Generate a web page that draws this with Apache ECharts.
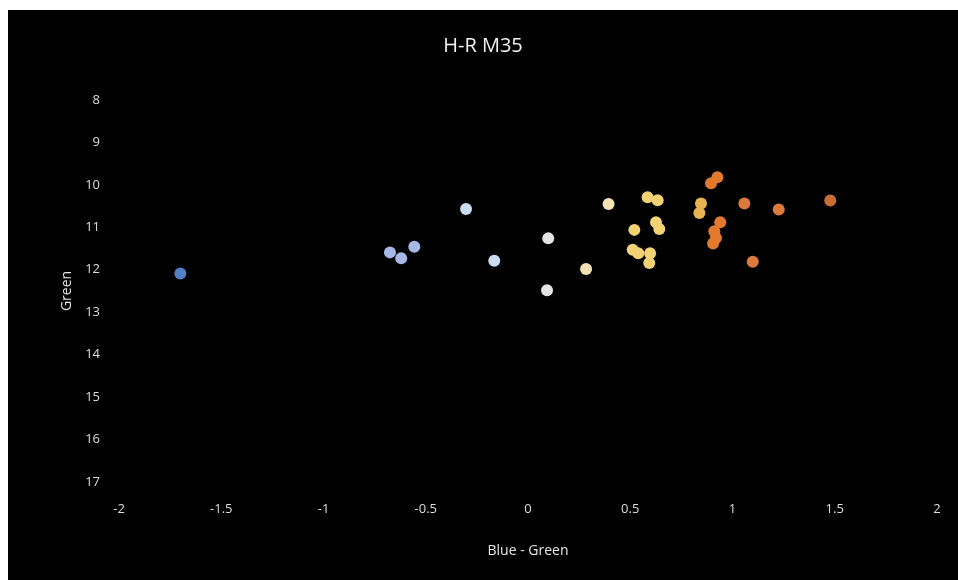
<!DOCTYPE html>
<html>
<head>
<meta charset="utf-8">
<script src="https://cdn.jsdelivr.net/npm/echarts@6/dist/echarts.min.js"></script>
<style>
html,body{margin:0;padding:0;background:#ffffff;width:958px;height:580px;overflow:hidden;}
#chart{position:absolute;left:8px;top:10px;width:950px;height:570px;background:#000;}
</style>
</head>
<body>
<div id="chart"></div>
<script>
// Blue - Green colour index
const blueMinusGreen = [-1.70, -0.675, -0.62, -0.556, -0.303, -0.165, 0.099, 0.093, 0.284, 0.394,
  0.585, 0.634, 0.626, 0.642, 0.520, 0.512, 0.539, 0.597, 0.593, 0.846,
  0.838, 0.926, 0.895, 1.058, 1.226, 1.478, 0.940, 0.911, 0.919, 0.905, 1.099];
// Green magnitude
const greenMag = [12.09, 11.59, 11.73, 11.46, 10.57, 11.79, 11.26, 12.48, 11.98, 10.45,
  10.29, 10.36, 10.88, 11.04, 11.06, 11.53, 11.61, 11.61, 11.84, 10.44,
  10.66, 9.82, 9.96, 10.44, 10.58, 10.37, 10.88, 11.09, 11.25, 11.38, 11.81];
const xTicks = [-2, -1.5, -1, -0.5, 0, 0.5, 1, 1.5, 2];
const yTicks = [8, 9, 10, 11, 12, 13, 14, 15, 16, 17];

const points = blueMinusGreen.map((x, i) => [x, greenMag[i]]);
const font = '"Open Sans", "Liberation Sans", sans-serif';
const chart = echarts.init(document.getElementById('chart'));
chart.setOption({
  backgroundColor: '#000000',
  animation: false,
  title: {
    text: 'H-R M35', left: 'center', top: 21,
    textStyle: {color: '#f2f2f2', fontSize: 20, fontWeight: 'normal', fontFamily: font}
  },
  grid: {left: 111, right: 21, top: 90, bottom: 98},
  visualMap: {
    show: false, type: 'piecewise', dimension: 0,
    pieces: [
      {lt: -1, color: '#4f81c4'},
      {gte: -1, lt: -0.4, color: '#a6b9e6'},
      {gte: -0.4, lt: -0.1, color: '#cadcf0'},
      {gte: -0.1, lt: 0.2, color: '#e4e4e4'},
      {gte: 0.2, lt: 0.45, color: '#f5e2b4'},
      {gte: 0.45, lt: 0.7, color: '#f2d274'},
      {gte: 0.7, lt: 0.87, color: '#e8b452'},
      {gte: 0.87, lt: 1.0, color: '#e27a2e'},
      {gte: 1.0, lt: 1.3, color: '#db7a3c'},
      {gte: 1.3, color: '#c86e34'}
    ]
  },
  xAxis: {
    type: 'value', min: xTicks[0], max: xTicks[xTicks.length - 1], interval: 0.5,
    name: 'Blue - Green', nameLocation: 'middle', nameGap: 62,
    nameTextStyle: {color: '#e6e6e6', fontSize: 14, fontFamily: font},
    axisLine: {show: false}, axisTick: {show: false}, splitLine: {show: false},
    axisLabel: {color: '#dedede', fontSize: 13, margin: 21, fontFamily: font}
  },
  yAxis: {
    type: 'value', inverse: true, min: yTicks[0], max: yTicks[yTicks.length - 1], interval: 1,
    name: 'Green', nameLocation: 'middle', nameGap: 45, nameRotate: 90,
    nameTextStyle: {color: '#e6e6e6', fontSize: 14, fontFamily: font},
    axisLine: {show: false}, axisTick: {show: false}, splitLine: {show: false},
    axisLabel: {color: '#dedede', fontSize: 13, margin: 19, fontFamily: font}
  },
  series: [{
    type: 'scatter', data: points, symbolSize: 12,
    itemStyle: {opacity: 1}
  }]
});
</script>
</body>
</html>
